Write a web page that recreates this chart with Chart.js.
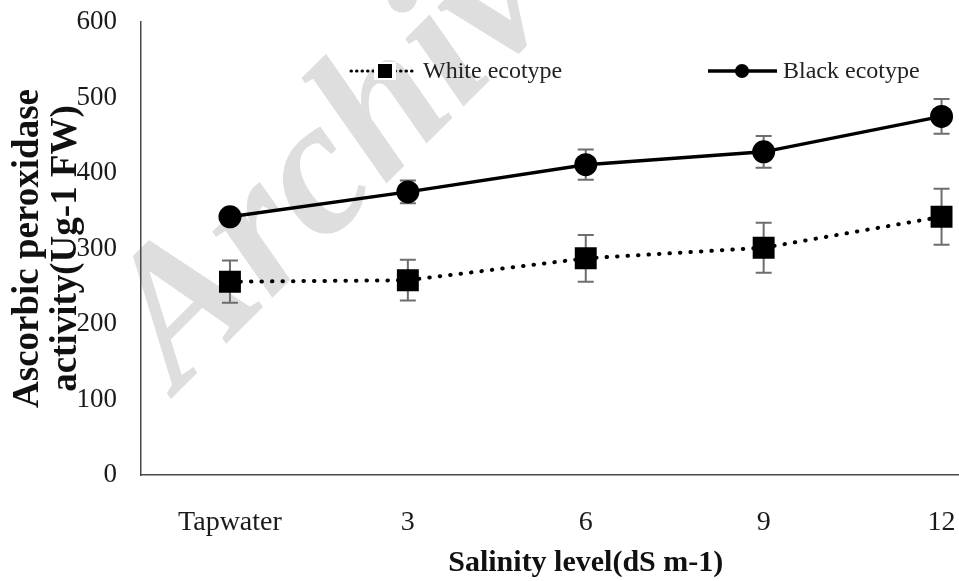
<!DOCTYPE html>
<html>
<head>
<meta charset="utf-8">
<title>Ascorbic peroxidase activity</title>
<script src="https://cdn.jsdelivr.net/npm/chart.js@4.4.1/dist/chart.umd.min.js"></script>
<style>
    html, body { margin: 0; padding: 0; overflow: hidden; background: #fff; }
    /* the plot runs on past the right edge of the window, like the original figure */
    #wrap { position: relative; width: 1046px; height: 581px; }
</style>
</head>
<body>
<div id="wrap"><canvas id="apxChart"></canvas></div>
<script>
// values
const salinityLevels = ['Tapwater', '3', '6', '9', '12'];
const whiteEcotype = [256, 258, 287, 301, 342];
const whiteErrors = [28, 27, 31, 33, 37];
const blackEcotype = [342, 375, 411, 428, 475];
const blackErrors = [8, 15, 20, 21, 23];
const yTickValues = [0, 100, 200, 300, 400, 500, 600];

const errorSets = [whiteErrors, blackErrors];
const serif = "'Liberation Serif', 'Times New Roman', serif";

// faint "Archive" stamp behind the plot
const watermark = {
    id: 'watermark',
    beforeDraw(chart) {
        const ctx = chart.ctx;
        ctx.save();
        ctx.translate(178, 392);
        ctx.rotate(-45 * Math.PI / 180);
        ctx.font = 'italic bold 194px ' + serif;
        ctx.fillStyle = '#dedede';
        ctx.fillText('Archive', 0, 0);
        ctx.restore();
    }
};

// whiskers, drawn under the markers
const errorBars = {
    id: 'errorBars',
    beforeDatasetsDraw(chart) {
        const {ctx, scales: {x, y}} = chart;
        ctx.save();
        ctx.strokeStyle = '#6e6e6e';
        ctx.lineWidth = 2;
        chart.data.datasets.forEach((ds, d) => {
            ds.data.forEach((v, i) => {
                const px = x.getPixelForValue(i);
                const top = y.getPixelForValue(v + errorSets[d][i]);
                const bot = y.getPixelForValue(v - errorSets[d][i]);
                ctx.beginPath();
                ctx.moveTo(px, top); ctx.lineTo(px, bot);
                ctx.moveTo(px - 8, top); ctx.lineTo(px + 8, top);
                ctx.moveTo(px - 8, bot); ctx.lineTo(px + 8, bot);
                ctx.stroke();
            });
        });
        ctx.restore();
    }
};

// legend sits inside the plot, two entries on one row
const insideLegend = {
    id: 'insideLegend',
    afterDraw(chart) {
        const ctx = chart.ctx;
        const ly = 71;
        ctx.save();
        ctx.strokeStyle = '#000';
        ctx.fillStyle = '#000';

        // White ecotype: dotted line + square
        ctx.lineWidth = 3;
        ctx.lineCap = 'round';
        ctx.setLineDash([0.5, 5]);
        ctx.beginPath();
        ctx.moveTo(351, ly); ctx.lineTo(414, ly);
        ctx.stroke();
        ctx.setLineDash([]);
        ctx.clearRect(374, ly - 9, 22, 18);
        ctx.fillRect(378, ly - 7, 14, 14);

        // Black ecotype: solid line + circle
        ctx.lineWidth = 3.5;
        ctx.lineCap = 'butt';
        ctx.beginPath();
        ctx.moveTo(708, ly); ctx.lineTo(777, ly);
        ctx.stroke();
        ctx.beginPath();
        ctx.arc(742, ly, 7, 0, Math.PI * 2);
        ctx.fill();

        ctx.font = '24px ' + serif;
        ctx.fillStyle = '#222';
        ctx.textBaseline = 'middle';
        ctx.fillText('White ecotype', 423, ly + 1);
        ctx.fillText('Black ecotype', 783, ly + 1);
        ctx.restore();
    }
};

const ctx = document.getElementById('apxChart').getContext('2d');
new Chart(ctx, {
    type: 'line',
    data: {
        labels: salinityLevels,
        datasets: [{
            label: 'White ecotype',
            data: whiteEcotype,
            borderColor: '#000',
            backgroundColor: '#000',
            borderWidth: 4,
            borderDash: [0.5, 10],
            borderCapStyle: 'round',
            pointStyle: 'rect',
            pointRadius: 15.5,
            pointBorderWidth: 0,
            tension: 0
        }, {
            label: 'Black ecotype',
            data: blackEcotype,
            borderColor: '#000',
            backgroundColor: '#000',
            borderWidth: 3.5,
            pointStyle: 'circle',
            pointRadius: 11.5,
            pointBorderWidth: 0,
            tension: 0
        }]
    },
    options: {
        responsive: true,
        maintainAspectRatio: false,
        animation: false,
        layout: {
            padding: { top: 22, right: 0, bottom: 0, left: 0 }
        },
        plugins: {
            legend: { display: false },
            tooltip: { enabled: false }
        },
        scales: {
            x: {
                offset: true,
                grid: { display: false, drawTicks: false },
                border: { display: true, color: '#4a4a4a', width: 1.5 },
                ticks: {
                    color: '#1a1a1a',
                    padding: 31,
                    maxRotation: 0,
                    font: { family: serif, size: 28 }
                },
                title: {
                    display: true,
                    text: 'Salinity level(dS m-1)',
                    color: '#111',
                    padding: { top: 0, bottom: 0 },
                    font: { family: serif, size: 30, weight: 'bold', lineHeight: '36px' }
                },
                afterFit(scale) {
                    scale.height = 106;
                    scale.paddingLeft = 0;
                    scale.paddingRight = 0;
                }
            },
            y: {
                min: 0,
                max: 600,
                grid: { display: false, drawTicks: false },
                border: { display: true, color: '#4a4a4a', width: 1.5 },
                afterBuildTicks(scale) {
                    scale.ticks = yTickValues.map(v => ({ value: v }));
                },
                ticks: {
                    color: '#1a1a1a',
                    padding: 24,
                    font: { family: serif, size: 27 }
                },
                title: {
                    display: true,
                    text: ['Ascorbic peroxidase', 'activity(Ug-1 FW)'],
                    color: '#111',
                    padding: { top: 9, bottom: 0 },
                    font: { family: serif, size: 37, weight: 'bold', lineHeight: '38px' }
                },
                afterFit(scale) {
                    scale.width = 141;
                    scale.paddingTop = 0;
                    scale.paddingBottom = 0;
                }
            }
        }
    },
    plugins: [watermark, errorBars, insideLegend]
});
</script>
</body>
</html>
